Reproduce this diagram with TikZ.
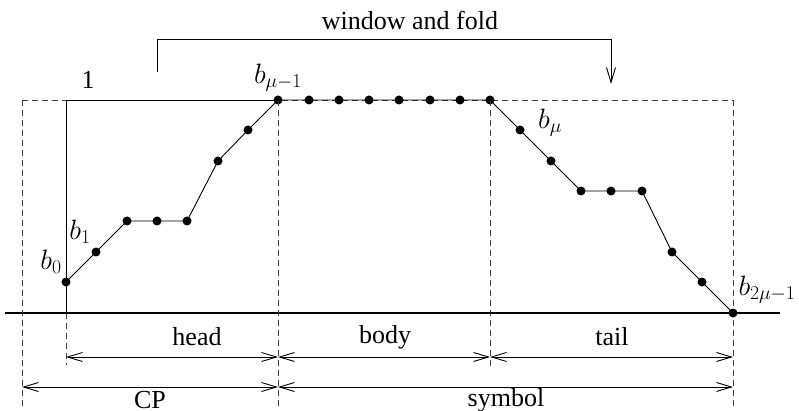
\RequirePackage{fix-cm}
\documentclass[tikz,border=0pt]{standalone}
\usepackage{fontspec}
\setmainfont{Liberation Serif}
\usetikzlibrary{arrows.meta}
\tikzset{
  dot/.style={circle,fill=black,inner sep=0pt,minimum size=9pt},
  lbl/.style={inner sep=0pt,font=\fontsize{26}{31}\selectfont},
  mlbl/.style={inner sep=0pt,font=\fontsize{28}{33}\selectfont},
  dsh/.style={line width=0.8pt,dash pattern=on 6pt off 4pt,black!75},
  thin line/.style={line width=0.9pt},
  dim/.style={line width=0.9pt,{Straight Barb[length=15pt,width=9pt]}-{Straight Barb[length=15pt,width=9pt]}}
}
\begin{document}
\begin{tikzpicture}[x=1pt,y=-1pt]
\useasboundingbox (0,0) rectangle (799,411);
% reference coordinates
\coordinate (axL) at (5,313);
\coordinate (axR) at (780,313);
\coordinate (tl) at (22,100);
\coordinate (tr) at (733,100);
\coordinate (lb) at (22,408);
\coordinate (c66top) at (66,100);
\coordinate (c66bot) at (66,313);
\coordinate (c66low) at (66,365);
\coordinate (c278low) at (278,408);
\coordinate (c490low) at (490,368);
\coordinate (c733low) at (733,408);
\coordinate (hdL) at (66,357);
\coordinate (hdM) at (278,357);
\coordinate (hdN) at (490,357);
\coordinate (hdR) at (733,357);
\coordinate (cpL) at (22,387);
\coordinate (cpM) at (278,387);
\coordinate (cpR) at (733,387);
\coordinate (wfA) at (157,72);
\coordinate (wfB) at (157,39);
\coordinate (wfC) at (611,39);
\coordinate (wfD) at (611,84);

% dashed frame
\draw[dsh] (tl) -- (tr);
\draw[dsh] (tl) -- (lb);
\draw[dsh] (tr) -- (c733low);
\draw[dsh] (c66bot) -- (c66low);

% head points
\node[dot] (h0) at (66,282) {};
\node[dot] (h1) at (96,252) {};
\node[dot] (h2) at (127,221) {};
\node[dot] (h3) at (157,221) {};
\node[dot] (h4) at (187,221) {};
\node[dot] (h5) at (218,161) {};
\node[dot] (h6) at (248,130) {};
\node[dot] (h7) at (278,100) {};
% body points
\node[dot] (m1) at (309,100) {};
\node[dot] (m2) at (339,100) {};
\node[dot] (m3) at (369,100) {};
\node[dot] (m4) at (399,100) {};
\node[dot] (m5) at (430,100) {};
\node[dot] (m6) at (460,100) {};
% tail points
\node[dot] (t0) at (490,100) {};
\node[dot] (t1) at (520,130) {};
\node[dot] (t2) at (551,161) {};
\node[dot] (t3) at (581,191) {};
\node[dot] (t4) at (611,191) {};
\node[dot] (t5) at (642,191) {};
\node[dot] (t6) at (672,252) {};
\node[dot] (t7) at (702,282) {};
\node[dot] (t8) at (733,313) {};

\draw[dsh] (h7.center) -- (c278low);
\draw[dsh] (t0.center) -- (c490low);

% axis and solid frame
\draw[line width=1.3pt] (axL) -- (axR);
\draw[thin line] (c66bot) -- (c66top) -- (h7.center);

% curve
\draw[thin line] (h0.center) -- (h1.center) -- (h2.center) -- (h3.center) -- (h4.center) -- (h5.center) -- (h6.center) -- (h7.center)
  -- (m1.center) -- (m2.center) -- (m3.center) -- (m4.center) -- (m5.center) -- (m6.center) -- (t0.center)
  -- (t1.center) -- (t2.center) -- (t3.center) -- (t4.center) -- (t5.center) -- (t6.center) -- (t7.center) -- (t8.center);

% dimension arrows
\draw[dim] (hdL) -- (hdM);
\draw[dim] (hdM) -- (hdN);
\draw[dim] (hdN) -- (hdR);
\draw[dim] (cpL) -- (cpM);
\draw[dim] (cpM) -- (cpR);

% window and fold
\draw[thin line] (wfA) -- (wfB) -- (wfC);
\draw[thin line,-{Straight Barb[length=15pt,width=9pt]}] (wfC) -- (wfD);
\node[lbl] (wf) at (410,20) {window and fold};

% labels
\node[lbl] (one) at (88,80) {1};
\node[mlbl] (lbm1) at (278,78) {$b_{\mu-1}$};
\node[mlbl] (lb0) at (51,262) {$b_0$};
\node[mlbl] (lb1) at (80,232) {$b_1$};
\node[mlbl] (lbmu) at (550,123) {$b_\mu$};
\node[mlbl] (lb2m) at (767,290) {$b_{2\mu-1}$};
\node[lbl] (head) at (197,337) {head};
\node[lbl] (body) at (385,337) {body};
\node[lbl] (tail) at (612,337) {tail};
\node[lbl] (cp) at (150,400) {CP};
\node[lbl] (sym) at (506,400) {symbol};
\end{tikzpicture}
\end{document}
